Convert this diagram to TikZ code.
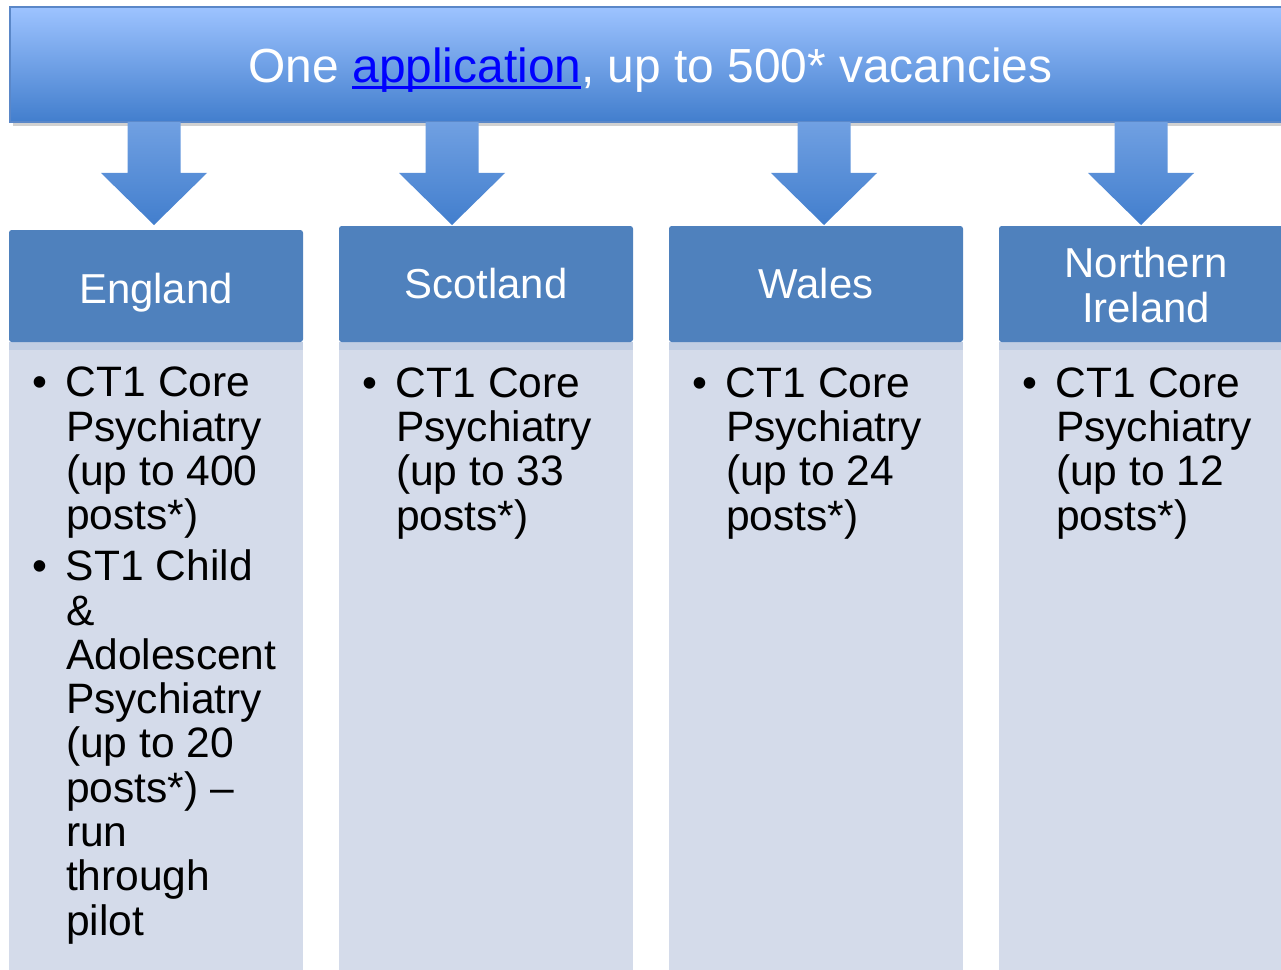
\documentclass[tikz,border=0pt]{standalone}
\usepackage{fontspec}
\setmainfont{Liberation Sans}
\usetikzlibrary{calc}

\definecolor{bannerTop}{RGB}{157,195,255}
\definecolor{bannerBot}{RGB}{66,126,205}
\definecolor{bannerEdge}{RGB}{90,135,200}
\definecolor{arrowTop}{RGB}{112,160,226}
\definecolor{arrowBot}{RGB}{66,126,205}
\definecolor{hdrBlue}{RGB}{79,129,189}
\definecolor{bodyFill}{RGB}{212,219,234}
\definecolor{bodyStrip}{RGB}{193,206,227}
\definecolor{linkBlue}{RGB}{0,0,255}

% bullet and hanging indent for the lists
\newcommand{\bul}{\makebox[25.5pt][l]{\textbullet}}
\newcommand{\ind}{\makebox[25.5pt]{}}
% thick link underline
\newcommand{\linkul}[1]{\setbox0\hbox{#1}\rlap{\rule[-4.2pt]{\wd0}{1.8pt}}\box0}

\begin{document}
\begin{tikzpicture}[
    x=0.75pt, y=-0.75pt,
    every node/.style={inner sep=0pt, outer sep=0pt},
    ]

    % Determines the boundries
    \path[use as bounding box] (0,0) rectangle (1281,970);
    \clip (0,0) rectangle (1281,970);

    \def\px{0.75pt}
    \def\colW{294}          % width of a column
    \def\shaftW{26.5}       % half width of an arrow shaft
    \def\headW{53}          % half width of an arrow head

    \tikzset{
        bannerbox/.style={draw=bannerEdge, line width=0.8pt, top color=bannerTop,
            bottom color=bannerBot, minimum width=1280*\px, minimum height=115*\px},
        hdrbox/.style={fill=hdrBlue, rounded corners=2pt, minimum width=\colW*\px},
        bodybox/.style={fill=bodyFill, minimum width=\colW*\px, minimum height=640*\px},
        hdrtext/.style={text=white, font=\fontsize{31.4pt}{33.75pt}\selectfont, align=center},
        listtext/.style={font=\fontsize{31.9pt}{33.2pt}\selectfont, align=left},
        arrowshade/.style={top color=arrowTop, bottom color=arrowBot},
    }

    % The banner along the top
    \fill[black!18] (13,122) rectangle (1290,126);
    \node[bannerbox] (banner) at (650,64.5) {};
    \node[text=white, font=\fontsize{35.9pt}{40pt}\selectfont, anchor=base] (title)
        at (650.5,83) {One \textcolor{linkBlue}{\linkul{application}}, up to 500* vacancies};

    % Header and body of every column
    \foreach \name/\xl/\yt in {E/9/230, S/339/226, W/669/226, N/999/226}{
        \node[bodybox, anchor=north west] (b\name) at (\xl,342) {};
        \fill[bodyStrip] (b\name.north west) rectangle ++(\colW,8);
        \pgfmathsetmacro{\hh}{342-\yt}
        \node[hdrbox, anchor=north west, minimum height=\hh*\px] (h\name) at (\xl,\yt) {};
    }

    % The block arrows from the banner to the headers
    \foreach \name/\ax in {E/154, S/452, W/824, N/1141}{
        \coordinate (tip\name) at (\ax,225);
        \shade[arrowshade] ($(tip\name |- banner.south)+(-\shaftW,0)$) -- ++(2*\shaftW,0)
            -- ++(0,51) -- ++(\headW-\shaftW,0) -- (tip\name) -- ++(-\headW,-52)
            -- ++(\headW-\shaftW,0) -- cycle;
    }

    % Header labels (a node with two lines sits on its last line)
    \node[hdrtext, anchor=base] (lE) at (156,303) {England};
    \node[hdrtext, anchor=base] (lS) at (486,298) {Scotland};
    \node[hdrtext, anchor=base] (lW) at (816,298) {Wales};
    \node[hdrtext, anchor=base] (lN) at (1146,322) {Northern\\Ireland};

    % The lists
    \node[listtext, anchor=base west] (tE) at (32,935)
        {\bul CT1 Core\\\ind Psychiatry\\\ind (up to 400\\\ind posts*)\\[5.25pt]
         \bul ST1 Child\\\ind \&\\\ind Adolescent\\\ind Psychiatry\\\ind (up to 20\\
         \ind posts*) –\\\ind run\\\ind through\\\ind pilot};
    \foreach \name/\xl/\num in {S/362/33, W/692/24, N/1022/12}{
        \node[listtext, anchor=base west] (t\name) at (\xl,530)
            {\bul CT1 Core\\\ind Psychiatry\\\ind (up to \num\\\ind posts*)};
    }
\end{tikzpicture}
\end{document}
